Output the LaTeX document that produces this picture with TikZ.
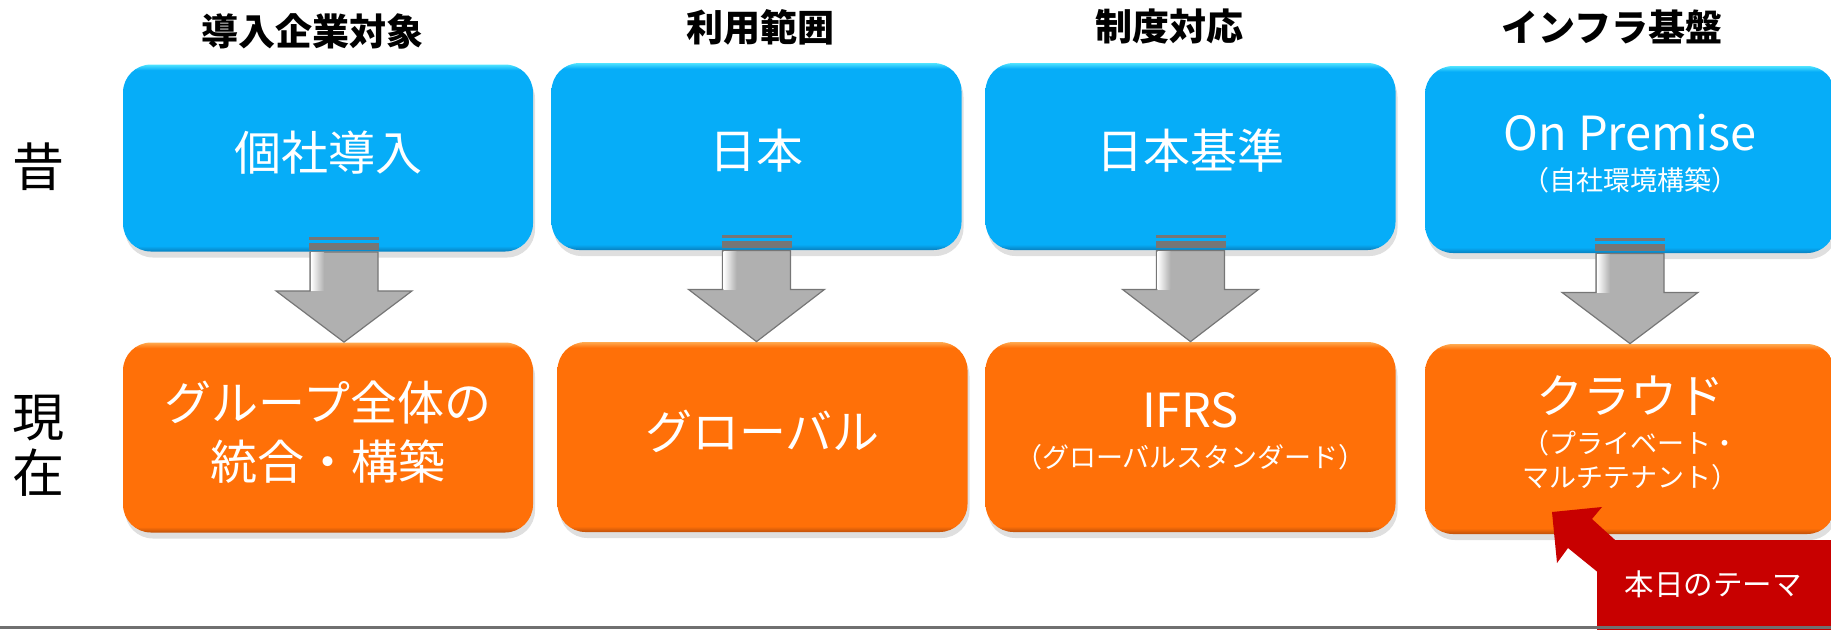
\documentclass[tikz,border=0pt]{standalone}
\usepackage{fontspec}
\setmainfont{Noto Sans CJK JP}
\usetikzlibrary{calc,shadows}

\definecolor{skyblue}{RGB}{6,173,248}
\definecolor{skytop}{RGB}{80,228,255}
\definecolor{skybot}{RGB}{8,128,190}
\definecolor{carrot}{RGB}{255,112,8}
\definecolor{carrottop}{RGB}{255,170,80}
\definecolor{carrotbot}{RGB}{190,80,10}
\definecolor{signred}{RGB}{200,0,0}
\definecolor{steel}{RGB}{176,176,176}
\definecolor{steeldark}{RGB}{118,118,118}
\definecolor{barline}{RGB}{112,112,112}

\pgfdeclareverticalshading{bluebevel}{100bp}{color(0bp)=(skybot); color(25bp)=(skybot); color(26.5bp)=(skyblue); color(73.5bp)=(skyblue); color(75bp)=(skytop); color(100bp)=(skytop)}
\pgfdeclareverticalshading{orangebevel}{100bp}{color(0bp)=(carrotbot); color(25bp)=(carrotbot); color(26.5bp)=(carrot); color(73.5bp)=(carrot); color(75bp)=(carrottop); color(100bp)=(carrottop)}

\newcommand\mainsz{\fontsize{23.5pt}{20pt}\selectfont\lineskiplimit=-50pt\relax}
\newcommand\subsz{\fontsize{13.5pt}{17pt}\selectfont}
\newcommand\sidesz{\fontsize{26pt}{28pt}\selectfont\lineskiplimit=-50pt\relax}

\begin{document}
\begin{tikzpicture}[x=0.5pt, y=-0.5pt,
    box/.style={rounded corners=14pt, shade, minimum width=205pt, inner sep=0pt,
      text=white, align=center, font=\mainsz, text depth=7.5pt,
      drop shadow={shadow xshift=1pt, shadow yshift=-3pt, opacity=0.25}},
    bluebox/.style={box, shading=bluebevel, minimum height=93.5pt},
    orangebox/.style={box, shading=orangebevel, minimum height=95pt},
    headtext/.style={font=\fontsize{18.5pt}{20pt}\selectfont\bfseries, inner sep=0pt},
    sidetext/.style={font=\sidesz, align=center, inner sep=0pt}]
    \useasboundingbox (0,0) rectangle (1831,629);

    \node[headtext] (h1) at (312,31) {導入企業対象};
    \node[headtext] (h2) at (760,27) {利用範囲};
    \node[headtext] (h3) at (1169,27) {制度対応};
    \node[headtext] (h4) at (1612,27) {インフラ基盤};

    \node[sidetext] (past) at (38,167) {昔};
    \node[sidetext] (now) at (38,446) {現\\在};

    \node[bluebox] (b1) at (328,158) {個社導入};
    \node[bluebox] (b2) at (756.5,156.5) {日本};
    \node[bluebox] (b3) at (1190.5,156.5) {日本基準};
    \node[bluebox] (b4) at (1630,159.5) {On Premise\\{\subsz （自社環境構築）}};

    \node[orangebox] (o1) at (328,437.5) {グループ全体の\\[9.5pt]統合・構築};
    \node[orangebox] (o2) at (762.5,437) {グローバル};
    \node[orangebox] (o3) at (1190.5,437) {IFRS\\{\subsz （グローバルスタンダード）}};
    \node[orangebox] (o4) at (1630,439) {クラウド\\{\subsz （プライベート・}\\[-3pt]{\subsz マルチテナント）}};

    \foreach \bx/\ox/\dx in {b1/o1/16, b2/o2/0, b3/o3/0, b4/o4/0}{
      \coordinate (top) at ($(\bx.south)+(\dx,0)$);
      \coordinate (tip) at (top |- \ox.north);
      \fill[steeldark] ($(top)+(-35,-15)$) rectangle ($(top)+(35,-12)$);
      \fill[steeldark] ($(top)+(-35,-9)$) rectangle ($(top)+(35,-2)$);
      \filldraw[fill=steel, draw=steeldark, line width=0.6pt] ($(top)+(-34,0)$) -- ($(top)+(34,0)$)
        -- ($(top)+(34,39)$) -- ($(top)+(68,39)$) -- (tip) -- ($(top)+(-68,39)$) -- ($(top)+(-34,39)$) -- cycle;
      \shade[left color=white, right color=steel] ($(top)+(-33,1)$) rectangle ($(top)+(-20,39)$);
    }

    \fill[signred, rounded corners=4pt] (1597,540) rectangle (1860,660);
    \fill[signred] (1552,512) -- (1602,507) -- (1592,519) -- (1625,549) -- (1605,578) -- (1568,548) -- (1557,563) -- cycle;
    \node[text=white, font=\fontsize{14.75pt}{16pt}\selectfont, inner sep=0pt] (theme) at (1713,584) {本日のテーマ};

    \fill[barline] (0,626) rectangle (1831,629);
\end{tikzpicture}
\end{document}
